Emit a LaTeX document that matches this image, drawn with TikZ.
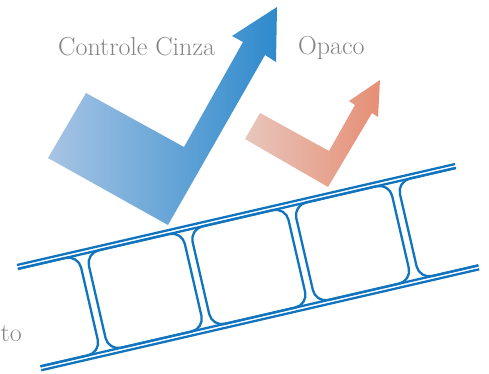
\documentclass[tikz,border=0pt]{standalone}
\usepackage{fontspec}
\setmainfont{Latin Modern Roman}
\usetikzlibrary{calc}
\definecolor{filmblue}{RGB}{16,116,190}
\definecolor{txtgray}{RGB}{132,132,132}
\definecolor{blueL}{RGB}{168,196,228}
\definecolor{blueR}{RGB}{46,138,204}
\definecolor{orL}{RGB}{232,198,188}
\definecolor{orR}{RGB}{230,142,116}
\tikzset{
  lbl/.style={text=txtgray, font=\fontsize{26}{30}\selectfont, inner sep=0pt},
  filmline/.style={draw=filmblue, line width=2.3pt},
  framebox/.style={draw=filmblue, line width=2.3pt, rounded corners=13pt}
}
\begin{document}
\begin{tikzpicture}[x=1pt,y=-1pt]
\useasboundingbox (0,0) rectangle (489,373);
% blue arrow
\shade[left color=blueL, right color=blueR]
  (48,158) -- (86,93) -- (184,147) -- (243,42) -- (232,36) -- (277,7)
  -- (276,62) -- (265,55) -- (168,225) -- cycle;
% orange arrow
\shade[left color=orL, right color=orR]
  (245,139) -- (260,113) -- (329,151) -- (355,105) -- (349,101) -- (380,80)
  -- (378,117) -- (372,113) -- (328,187) -- cycle;
% labels
\node[lbl, anchor=base west] (cinza) at (58,55) {Controle Cinza};
\node[lbl, anchor=base west] (opaco) at (298,54) {Opaco};
\node[lbl, anchor=base west] (to) at (0.5,341) {to};
% film strip
\begin{scope}[shift={(17,265)}, rotate=12.98]
  \draw[filmline] (0,0) -- (449.5,0);
  \draw[filmline] (0,4) -- (449.5,4);
  \draw[filmline] (0,104) -- (449.5,104);
  \draw[filmline] (0,108) -- (449.5,108);
  \begin{scope}
    \clip (0,-10) rectangle (449.5,120);
    \draw[framebox] (-60,4) rectangle (61.9,104);
    \draw[framebox] (69.9,4) rectangle (168.3,104);
    \draw[framebox] (176.3,4) rectangle (274.7,104);
    \draw[framebox] (282.7,4) rectangle (381.1,104);
    \draw[framebox] (389.1,4) rectangle (520,104);
  \end{scope}
\end{scope}
\end{tikzpicture}
\end{document}
